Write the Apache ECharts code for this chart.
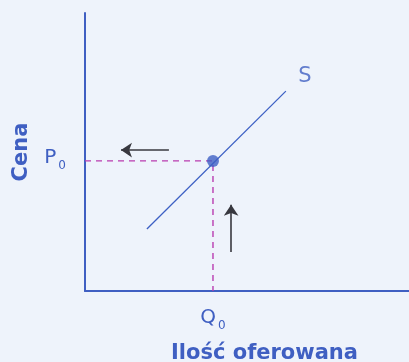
<!DOCTYPE html>
<html>
<head>
    <meta charset="utf-8">
    <script src="https://cdn.jsdelivr.net/npm/echarts@6/dist/echarts.min.js"></script>
    <title>Podaż</title>
</head>
<body style="margin:0;background:#eef3fb;">
    <div id="main" style="width:409px;height:362px;"></div>
    <script type="text/javascript">
        // supply curve S (two ends)
        var supplyLine = [[1.91, 2.23], [6.2, 7.19]];
        var equilibrium = [3.95, 4.68];
        var sLabelPos = [6.79, 7.73];
        // arrows: [from, to]
        var arrowLeft = [[2.59, 5.07], [1.11, 5.07]];
        var arrowUp = [[4.51, 1.4], [4.51, 3.1]];
        var axisMax = 10;

        var blue = '#3f5fc2';
        var myChart = echarts.init(document.getElementById('main'));

        var subRich = {
            p: { color: blue, fontSize: 20 },
            s: { color: blue, fontSize: 12, verticalAlign: 'bottom', padding: [0, 0, -4, 2] }
        };

        var option = {
            backgroundColor: '#eef3fb',
            textStyle: { fontFamily: 'DejaVu Sans' },
            grid: { left: 85, right: 0, top: 13, bottom: 71, outerBoundsMode: 'none' },
            xAxis: {
                type: 'value', min: 0, max: axisMax,
                name: 'Ilość oferowana',
                nameLocation: 'middle',
                nameGap: 52,
                nameTextStyle: { color: blue, fontSize: 21, fontWeight: 'bold', padding: [0, 0, 0, 35] },
                axisLine: { lineStyle: { color: blue, width: 2 } },
                axisTick: { show: false },
                splitLine: { show: false },
                axisLabel: {
                    customValues: [equilibrium[0]],
                    margin: 17,
                    formatter: function () { return '{p|Q}{s|0}'; },
                    rich: subRich
                }
            },
            yAxis: {
                type: 'value', min: 0, max: axisMax,
                name: 'Cena',
                nameLocation: 'middle',
                nameGap: 53,
                nameTextStyle: { color: blue, fontSize: 21, fontWeight: 'bold' },
                axisLine: { lineStyle: { color: blue, width: 2 } },
                axisTick: { show: false },
                splitLine: { show: false },
                axisLabel: {
                    customValues: [equilibrium[1]],
                    margin: 19,
                    padding: [0, 0, 6, 0],
                    formatter: function () { return '{p|P}{s|0}'; },
                    rich: subRich
                }
            },
            series: [{
                type: 'line',
                data: [[0, equilibrium[1]], equilibrium, [equilibrium[0], 0]],
                symbol: 'none',
                lineStyle: { color: '#b93cb0', width: 1.4, type: [6, 5] },
                z: 1
            }, {
                type: 'line',
                data: supplyLine,
                symbol: 'none',
                lineStyle: { color: '#3d60c4', width: 1.3 },
                z: 2
            }, {
                type: 'scatter',
                data: [equilibrium],
                symbolSize: 12,
                itemStyle: { color: '#3d5fc4' },
                z: 3
            }, {
                type: 'scatter',
                data: [sLabelPos],
                symbolSize: 0,
                label: {
                    show: true, position: 'inside', formatter: 'S',
                    color: blue, fontSize: 21
                }
            }, {
                type: 'lines',
                coordinateSystem: 'cartesian2d',
                symbol: ['none', 'arrow'],
                symbolSize: [7, 11],
                lineStyle: { color: '#38383f', width: 1.6, opacity: 1 },
                data: [{ coords: arrowLeft }, { coords: arrowUp }]
            }]
        };
        myChart.setOption(option);
    </script>
</body>
</html>
